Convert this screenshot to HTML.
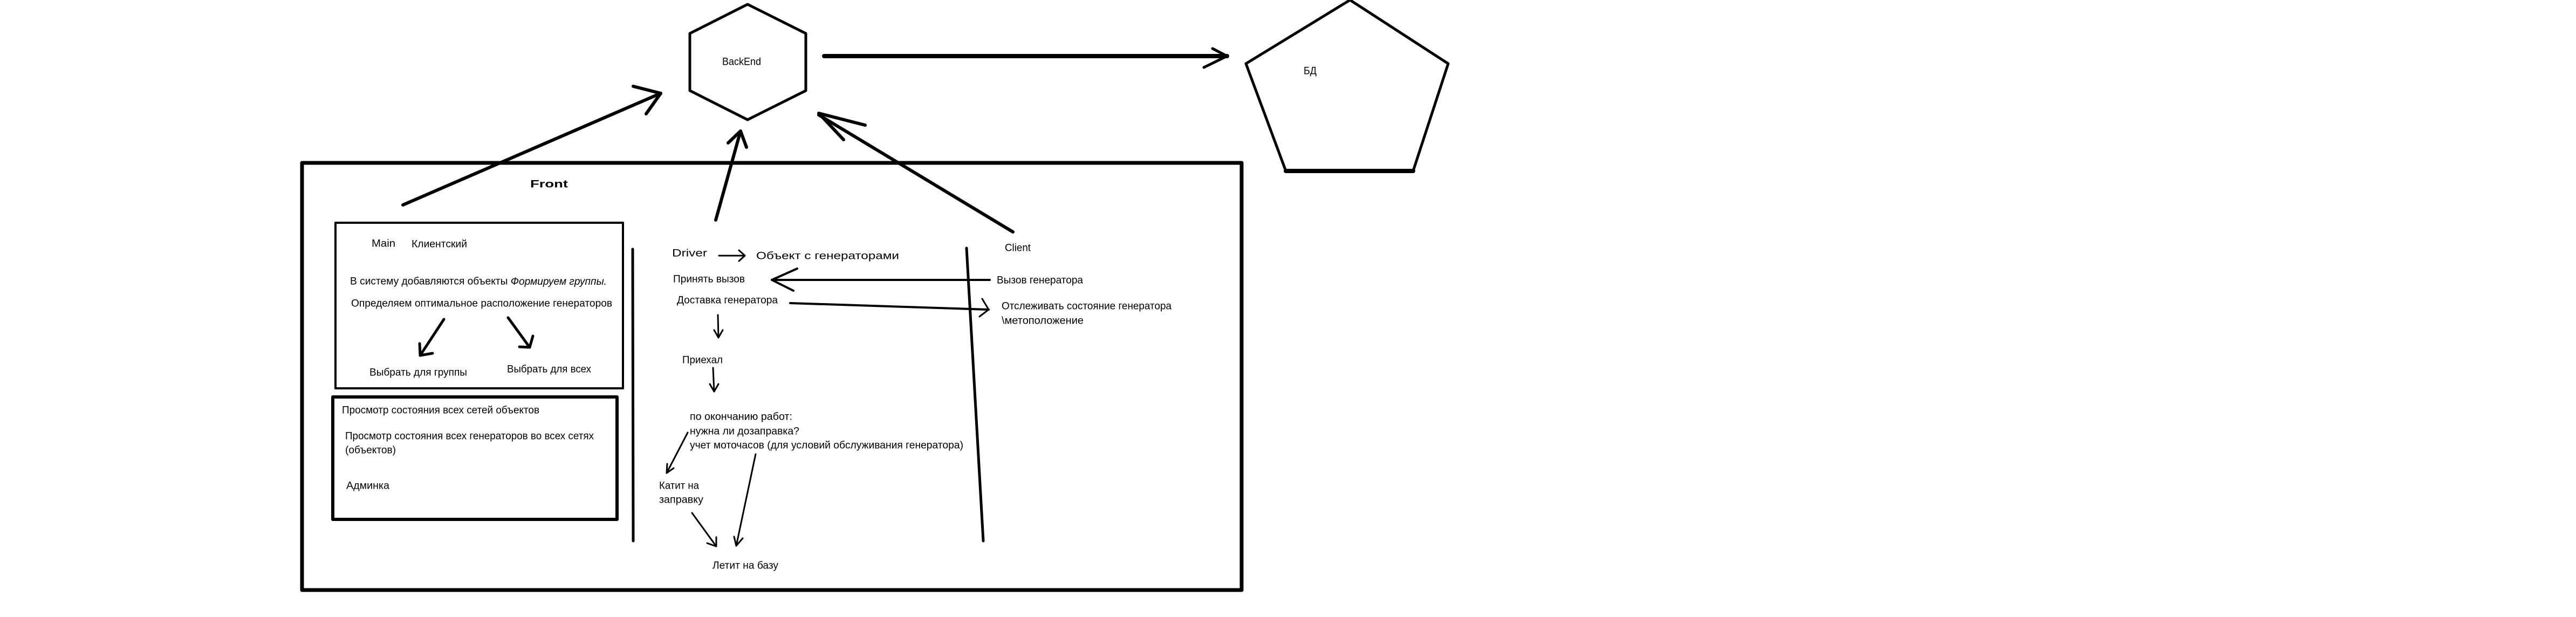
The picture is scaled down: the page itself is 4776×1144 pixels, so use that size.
<!DOCTYPE html>
<html><head><meta charset="utf-8"><style>
html,body{margin:0;padding:0;background:#fff;}
svg{display:block;}
text{font-family:"Liberation Sans","DejaVu Sans",sans-serif;font-size:19px;fill:#000;dominant-baseline:central;}
</style></head><body>
<svg width="4776" height="1144" viewBox="0 0 4776 1144" xmlns="http://www.w3.org/2000/svg">
<g fill="none" stroke="#000" stroke-linecap="round" stroke-linejoin="round">
<polygon points="1386,8 1494,62 1494,168 1386,222 1279,168 1279,62" stroke-width="5"/>
<polygon points="2503,0 2685,118 2620,317 2384,317 2310,118" stroke-width="5"/>
<line x1="2384" y1="317" x2="2620" y2="317" stroke-width="8"/>
<line x1="1528" y1="104" x2="2275" y2="104" stroke-width="8"/>
<polyline points="2248,90 2275,104 2232,125" stroke-width="5"/>
<rect x="560" y="302" width="1742" height="792" stroke-width="7"/>
<line x1="747" y1="380" x2="1225" y2="173" stroke-width="6"/>
<polyline points="1174,160 1225,173 1198,211" stroke-width="6"/>
<line x1="1327" y1="408" x2="1373" y2="243" stroke-width="6"/>
<polyline points="1350,265 1373,243 1384,273" stroke-width="6"/>
<line x1="1878" y1="430" x2="1518" y2="213" stroke-width="6"/>
<polyline points="1604,232 1518,210 1564,259" stroke-width="6"/>
<rect x="622" y="413" width="533" height="307" stroke-width="4"/>
<rect x="617" y="736" width="527" height="227" stroke-width="6"/>
<line x1="1173" y1="462" x2="1174" y2="1003" stroke-width="5"/>
<line x1="1792" y1="460" x2="1823" y2="1003" stroke-width="5"/>
<line x1="823" y1="592" x2="779" y2="659" stroke-width="5"/>
<polyline points="778,637 779,659 802,655" stroke-width="5"/>
<line x1="942" y1="589" x2="982" y2="644" stroke-width="5"/>
<polyline points="963,643 982,644 988,623" stroke-width="5"/>
<line x1="1333" y1="474" x2="1381" y2="474" stroke-width="3"/>
<polyline points="1370,464 1381,474 1370,484" stroke-width="3"/>
<line x1="1835" y1="519" x2="1431" y2="519" stroke-width="4"/>
<polyline points="1478,498 1431,519 1471,539" stroke-width="4"/>
<line x1="1465" y1="562" x2="1833" y2="574" stroke-width="4"/>
<polyline points="1821,554 1833,574 1816,587" stroke-width="3"/>
<line x1="1331" y1="584" x2="1332" y2="626" stroke-width="3"/>
<polyline points="1324,612 1332,626 1340,612" stroke-width="3"/>
<line x1="1322" y1="682" x2="1324" y2="726" stroke-width="3"/>
<polyline points="1316,712 1324,726 1332,712" stroke-width="3"/>
<line x1="1275" y1="802" x2="1236" y2="877" stroke-width="3"/>
<polyline points="1237,860 1236,877 1249,868" stroke-width="3"/>
<line x1="1283" y1="951" x2="1328" y2="1013" stroke-width="3"/>
<polyline points="1311,1007 1328,1013 1328,996" stroke-width="3"/>
<line x1="1401" y1="842" x2="1365" y2="1012" stroke-width="3"/>
<polyline points="1361,995 1365,1012 1377,998" stroke-width="3"/>
</g>
<text x="1339" y="115" textLength="72" lengthAdjust="spacingAndGlyphs" font-size="20">BackEnd</text>
<text x="2417" y="132" textLength="24" lengthAdjust="spacingAndGlyphs" font-size="20">БД</text>
<text x="983" y="342" font-weight="bold" font-size="30" textLength="70" lengthAdjust="spacingAndGlyphs">Front</text>
<text x="689" y="452" textLength="44" lengthAdjust="spacingAndGlyphs">Main</text>
<text x="763" y="453" textLength="103" lengthAdjust="spacingAndGlyphs">Клиентский</text>
<text x="649" y="522" textLength="476" lengthAdjust="spacingAndGlyphs">В систему добавляются объекты <tspan font-style="italic">Формируем группы.</tspan></text>
<text x="651" y="563" textLength="484" lengthAdjust="spacingAndGlyphs">Определяем оптимальное расположение генераторов</text>
<text x="685" y="691" textLength="181" lengthAdjust="spacingAndGlyphs">Выбрать для группы</text>
<text x="940" y="685" textLength="156" lengthAdjust="spacingAndGlyphs">Выбрать для всех</text>
<text x="634" y="761" textLength="366" lengthAdjust="spacingAndGlyphs">Просмотр состояния всех сетей объектов</text>
<text x="640" y="809" textLength="461" lengthAdjust="spacingAndGlyphs">Просмотр состояния всех генераторов во всех сетях</text>
<text x="640" y="835" textLength="94" lengthAdjust="spacingAndGlyphs">(объектов)</text>
<text x="642" y="901" textLength="80" lengthAdjust="spacingAndGlyphs">Админка</text>
<text x="1246" y="470" font-size="24" textLength="65" lengthAdjust="spacingAndGlyphs">Driver</text>
<text x="1402" y="475" font-size="24" textLength="265" lengthAdjust="spacingAndGlyphs">Объект с генераторами</text>
<text x="1248" y="518" textLength="133" lengthAdjust="spacingAndGlyphs">Принять вызов</text>
<text x="1255" y="557" textLength="187" lengthAdjust="spacingAndGlyphs">Доставка генератора</text>
<text x="1265" y="668" textLength="75" lengthAdjust="spacingAndGlyphs">Приехал</text>
<text x="1279" y="773" textLength="190" lengthAdjust="spacingAndGlyphs">по окончанию работ:</text>
<text x="1279" y="800" textLength="203" lengthAdjust="spacingAndGlyphs">нужна ли дозаправка?</text>
<text x="1279" y="826" textLength="507" lengthAdjust="spacingAndGlyphs">учет моточасов (для условий обслуживания генератора)</text>
<text x="1222" y="901" textLength="74" lengthAdjust="spacingAndGlyphs">Катит на</text>
<text x="1222" y="927" textLength="82" lengthAdjust="spacingAndGlyphs">заправку</text>
<text x="1321" y="1049" textLength="122" lengthAdjust="spacingAndGlyphs">Летит на базу</text>
<text x="1863" y="460" textLength="48" lengthAdjust="spacingAndGlyphs">Client</text>
<text x="1848" y="520" textLength="160" lengthAdjust="spacingAndGlyphs">Вызов генератора</text>
<text x="1857" y="568" textLength="315" lengthAdjust="spacingAndGlyphs">Отслеживать состояние генератора</text>
<text x="1857" y="595" textLength="152" lengthAdjust="spacingAndGlyphs">\метоположение</text>
</svg>
</body></html>
